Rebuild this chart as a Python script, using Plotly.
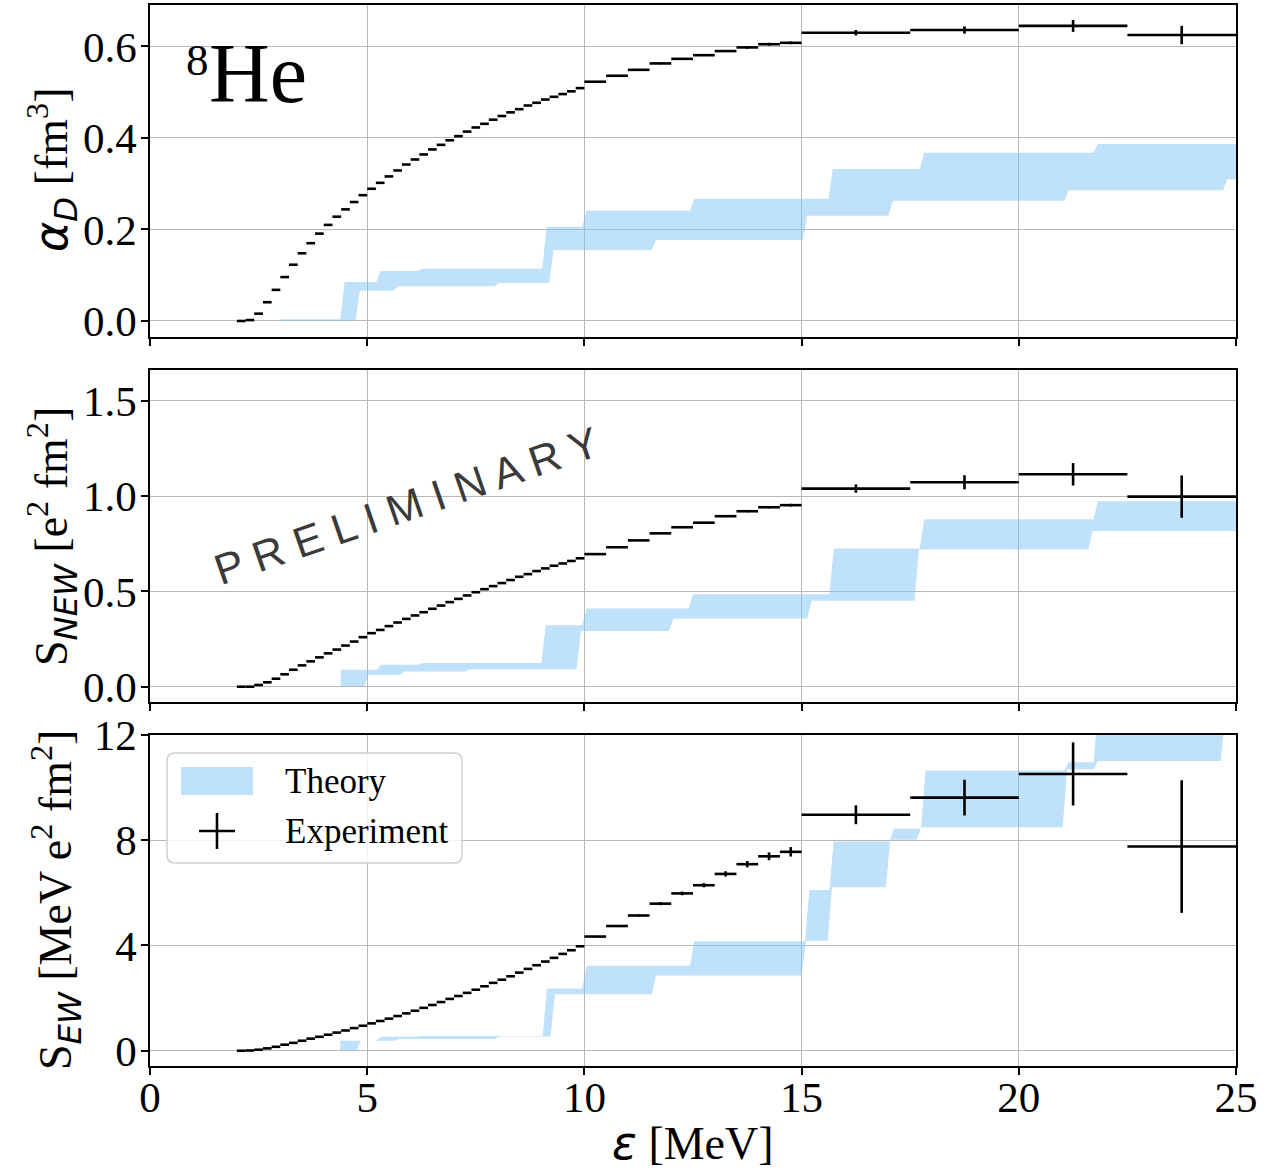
import plotly.graph_objects as go
from plotly.subplots import make_subplots

# ---------------- data ----------------
bin_edges = [2.0, 2.2, 2.4, 2.6, 2.8, 3.0, 3.2, 3.4, 3.6, 3.8,
             4.0, 4.2, 4.4, 4.6, 4.8, 5.0, 5.2, 5.4, 5.6, 5.8,
             6.0, 6.2, 6.4, 6.6, 6.8, 7.0, 7.2, 7.4, 7.6, 7.8,
             8.0, 8.2, 8.4, 8.6, 8.8, 9.0, 9.2, 9.4, 9.6, 9.8,
             10.0, 10.5, 11.0, 11.5, 12.0, 12.5, 13.0, 13.5, 14.0, 14.5,
             15.0, 17.5, 20.0, 22.5, 25.0]

alpha_exp = [0.000, 0.002, 0.016, 0.041, 0.068, 0.096, 0.123, 0.148, 0.170, 0.191,
             0.210, 0.228, 0.244, 0.260, 0.275, 0.289, 0.302, 0.316, 0.329, 0.342,
             0.353, 0.364, 0.375, 0.385, 0.395, 0.404, 0.414, 0.423, 0.431, 0.440,
             0.448, 0.456, 0.463, 0.471, 0.477, 0.484, 0.490, 0.496, 0.502, 0.509,
             0.523, 0.536, 0.549, 0.563, 0.573, 0.581, 0.590, 0.598, 0.605, 0.608,
             0.630, 0.636, 0.645, 0.625]
alpha_err = [0.000, 0.000, 0.000, 0.000, 0.000, 0.000, 0.000, 0.000, 0.000, 0.000,
             0.000, 0.000, 0.000, 0.000, 0.000, 0.000, 0.000, 0.000, 0.000, 0.000,
             0.000, 0.000, 0.000, 0.000, 0.000, 0.000, 0.000, 0.000, 0.000, 0.000,
             0.001, 0.001, 0.001, 0.001, 0.001, 0.001, 0.001, 0.001, 0.001, 0.001,
             0.001, 0.001, 0.002, 0.002, 0.002, 0.002, 0.002, 0.003, 0.003, 0.003,
             0.006, 0.008, 0.013, 0.020]

snew_exp = [0.000, 0.000, 0.009, 0.023, 0.042, 0.065, 0.089, 0.112, 0.133, 0.154,
            0.175, 0.195, 0.216, 0.237, 0.260, 0.281, 0.298, 0.318, 0.337, 0.356,
            0.374, 0.391, 0.409, 0.426, 0.444, 0.461, 0.479, 0.496, 0.512, 0.528,
            0.544, 0.560, 0.577, 0.591, 0.607, 0.621, 0.635, 0.647, 0.660, 0.674,
            0.696, 0.732, 0.768, 0.805, 0.837, 0.861, 0.895, 0.921, 0.942, 0.953,
            1.040, 1.073, 1.115, 0.998]
snew_err = [0.000, 0.000, 0.000, 0.000, 0.000, 0.000, 0.000, 0.000, 0.000, 0.000,
            0.000, 0.000, 0.000, 0.000, 0.000, 0.000, 0.000, 0.000, 0.000, 0.000,
            0.001, 0.001, 0.001, 0.001, 0.001, 0.001, 0.001, 0.001, 0.001, 0.001,
            0.001, 0.001, 0.001, 0.001, 0.001, 0.002, 0.002, 0.002, 0.002, 0.002,
            0.002, 0.002, 0.003, 0.003, 0.004, 0.004, 0.005, 0.005, 0.006, 0.007,
            0.022, 0.037, 0.059, 0.111]

sew_exp = [0.00, 0.01, 0.04, 0.09, 0.15, 0.23, 0.30, 0.38, 0.46, 0.53,
           0.61, 0.69, 0.77, 0.86, 0.95, 1.04, 1.13, 1.22, 1.32, 1.42,
           1.52, 1.63, 1.74, 1.85, 1.97, 2.08, 2.20, 2.32, 2.45, 2.58,
           2.70, 2.83, 2.97, 3.11, 3.25, 3.39, 3.53, 3.68, 3.82, 3.97,
           4.34, 4.74, 5.14, 5.59, 5.98, 6.29, 6.72, 7.09, 7.39, 7.56,
           8.97, 9.62, 10.52, 7.76]
sew_err = [0.00, 0.00, 0.00, 0.00, 0.00, 0.00, 0.00, 0.00, 0.00, 0.00,
           0.00, 0.00, 0.01, 0.01, 0.01, 0.01, 0.01, 0.01, 0.01, 0.01,
           0.01, 0.01, 0.01, 0.01, 0.01, 0.01, 0.01, 0.01, 0.02, 0.02,
           0.02, 0.02, 0.02, 0.02, 0.02, 0.02, 0.02, 0.03, 0.03, 0.03,
           0.03, 0.04, 0.05, 0.06, 0.07, 0.08, 0.10, 0.12, 0.15, 0.18,
           0.36, 0.68, 1.20, 2.52]

# theory band: step start energies and levels (upper / lower envelope)
alpha_up_x = [3.0, 4.43, 5.26, 6.21, 9.08, 10.0, 12.48, 15.67, 17.77, 21.77]
alpha_up_y = [0.004, 0.085, 0.109, 0.114, 0.206, 0.241, 0.267, 0.332, 0.368, 0.387]
alpha_lo_x = [3.0, 4.78, 5.66, 7.98, 9.24, 11.6, 15.08, 17.05, 21.1, 24.75]
alpha_lo_y = [0.000, 0.066, 0.076, 0.083, 0.155, 0.177, 0.230, 0.263, 0.286, 0.310]

snew_up_x = [4.39, 5.27, 6.22, 9.06, 10.0, 12.45, 15.69, 17.77, 21.77]
snew_up_y = [0.089, 0.115, 0.124, 0.323, 0.411, 0.485, 0.726, 0.879, 0.974]
snew_lo_x = [4.39, 4.98, 5.8, 7.3, 9.87, 12.0, 15.18, 17.65, 21.65]
snew_lo_y = [0.000, 0.062, 0.080, 0.090, 0.293, 0.358, 0.451, 0.720, 0.818]

sew_up_x = [4.38, 5.26, 6.2, 9.09, 10.0, 12.48, 15.13, 15.69, 17.07, 17.8, 21.1, 21.77]
sew_up_y = [0.38, 0.53, 0.56, 2.37, 3.23, 4.16, 6.11, 7.95, 8.44, 10.65, 10.96, 12.9]
sew_lo_x = [4.38, 4.8, 5.68, 7.98, 9.27, 11.6, 15.05, 15.65, 16.99, 17.7, 21.06, 21.77, 24.7]
sew_lo_y = [0.00, 0.38, 0.45, 0.54, 2.15, 2.86, 4.18, 6.21, 8.02, 8.49, 10.7, 11.01, 12.8]

x_ticks = [0, 5, 10, 15, 20, 25]
band_color = "rgba(128,196,243,0.5)"

# ---------------- helpers ----------------
def step_edge(xs, ys, x_end, ramp=0.05):
    px, py = [xs[0]], [ys[0]]
    for i in range(1, len(xs)):
        px += [xs[i] - ramp, xs[i] + ramp]
        py += [ys[i - 1], ys[i]]
    px.append(x_end)
    py.append(ys[-1])
    return px, py


def band_trace(ux, uy, lx, ly):
    upx, upy = step_edge(ux, uy, 25.0)
    lox, loy = step_edge(lx, ly, 25.0)
    return go.Scatter(x=lox + upx[::-1], y=loy + upy[::-1], fill="toself",
                      fillcolor=band_color, mode="lines", line=dict(width=0),
                      name="Theory", showlegend=False, hoverinfo="skip")


centers = [(bin_edges[i] + bin_edges[i + 1]) / 2 for i in range(len(bin_edges) - 1)]
halfw = [(bin_edges[i + 1] - bin_edges[i]) / 2 for i in range(len(bin_edges) - 1)]


def exp_trace(vals, errs):
    return go.Scatter(x=centers, y=vals, mode="markers",
                      marker=dict(size=1, color="black", opacity=0),
                      error_x=dict(type="data", array=halfw, width=0, thickness=2.6, color="black"),
                      error_y=dict(type="data", array=errs, width=0, thickness=2.6, color="black"),
                      name="Experiment", showlegend=False)


fig = make_subplots(rows=3, cols=1, shared_xaxes=True)
fig.add_trace(band_trace(alpha_up_x, alpha_up_y, alpha_lo_x, alpha_lo_y), row=1, col=1)
fig.add_trace(exp_trace(alpha_exp, alpha_err), row=1, col=1)
fig.add_trace(band_trace(snew_up_x, snew_up_y, snew_lo_x, snew_lo_y), row=2, col=1)
fig.add_trace(exp_trace(snew_exp, snew_err), row=2, col=1)
fig.add_trace(band_trace(sew_up_x, sew_up_y, sew_lo_x, sew_lo_y), row=3, col=1)
fig.add_trace(exp_trace(sew_exp, sew_err), row=3, col=1)

W, H = 1288, 1170
ML, MR, MT, MB = 150, 52, 5, 104
PW, PH = W - ML - MR, H - MT - MB


def px2paper(x, y):
    return (x - ML) / PW, (H - MB - y) / PH


axis_common = dict(showline=True, mirror=True, linecolor="black", linewidth=1.5,
                   showgrid=True, gridcolor="#b8b8b8", gridwidth=1.3, zeroline=False,
                   ticks="outside", ticklen=7, tickwidth=1.5, tickcolor="black", automargin=False,
                   tickfont=dict(family="Liberation Serif", size=43, color="black"))

for i, ax in enumerate(["xaxis", "xaxis2", "xaxis3"]):
    fig.layout[ax].update(range=[0, 25], tickvals=x_ticks, showticklabels=(i == 2),
                          ticklabelstandoff=-14, **axis_common)

fig.layout.yaxis.update(domain=[(H - MB - 337) / PH, 1.0], range=[-0.035, 0.6907],
                        tickvals=[0, 0.2, 0.4, 0.6], tickformat=".1f", ticklabelstandoff=-4, **axis_common)
fig.layout.yaxis2.update(domain=[(H - MB - 702) / PH, (H - MB - 370) / PH], range=[-0.0803, 1.6625],
                         tickvals=[0, 0.5, 1.0, 1.5], tickformat=".1f", ticklabelstandoff=-4, **axis_common)
fig.layout.yaxis3.update(domain=[0.0, (H - MB - 735) / PH], range=[-0.58, 12.0],
                         tickvals=[0, 4, 8, 12], tickformat="d", ticklabelstandoff=-4, **axis_common)

annotations = []
title_font = dict(family="Liberation Serif", size=46, color="black")
sans_it = "font-family:DejaVu Sans;font-style:italic"

# axis titles
ax_, ay_ = px2paper(52, 170)
annotations.append(dict(text=f"<span style='{sans_it}'>α</span><sub><span style='{sans_it}'>D</span></sub> [fm<sup>3</sup>]",
                        x=ax_, y=ay_, xref="paper", yref="paper",
                        textangle=-90, showarrow=False, font=title_font, xanchor="center", yanchor="middle"))
ax_, ay_ = px2paper(52, 537)
annotations.append(dict(text=f"S<sub><span style='{sans_it}'>NEW</span></sub> [e<sup>2</sup> fm<sup>2</sup>]",
                        x=ax_, y=ay_, xref="paper", yref="paper",
                        textangle=-90, showarrow=False, font=title_font, xanchor="center", yanchor="middle"))
ax_, ay_ = px2paper(56, 900)
annotations.append(dict(text=f"S<sub><span style='{sans_it}'>EW</span></sub> [MeV e<sup>2</sup> fm<sup>2</sup>]",
                        x=ax_, y=ay_, xref="paper", yref="paper",
                        textangle=-90, showarrow=False, font=title_font, xanchor="center", yanchor="middle"))
ax_, ay_ = px2paper(693, 1143)
annotations.append(dict(text=f"<span style='{sans_it}'>ε</span> [MeV]", x=ax_, y=ay_, xref="paper", yref="paper",
                        showarrow=False, font=title_font, xanchor="center", yanchor="middle"))

# nucleus label: mass number (superscript) and element symbol
ax_, ay_ = px2paper(184, 60)
annotations.append(dict(text="8", x=ax_, y=ay_, xref="paper", yref="paper", showarrow=False,
                        font=dict(family="Liberation Serif", size=45, color="black"),
                        xanchor="left", yanchor="middle"))
ax_, ay_ = px2paper(207, 74)
annotations.append(dict(text="He", x=ax_, y=ay_, xref="paper", yref="paper", showarrow=False,
                        font=dict(family="Liberation Serif", size=84, color="black"),
                        xanchor="left", yanchor="middle"))

# watermark
ax_, ay_ = px2paper(406, 506)
annotations.append(dict(text="P R E L I M I N A R Y", x=ax_, y=ay_, xref="paper", yref="paper", showarrow=False,
                        textangle=-19, font=dict(family="Liberation Sans", size=43, color="#3a3a3a"),
                        xanchor="center", yanchor="middle"))

# legend (drawn in the bottom panel)
ax_, ay_ = px2paper(283, 781)
annotations.append(dict(text="Theory", x=ax_, y=ay_, xref="paper", yref="paper", showarrow=False,
                        font=dict(family="Liberation Serif", size=35, color="black"),
                        xanchor="left", yanchor="middle"))
ax_, ay_ = px2paper(283, 831)
annotations.append(dict(text="Experiment", x=ax_, y=ay_, xref="paper", yref="paper", showarrow=False,
                        font=dict(family="Liberation Serif", size=35, color="black"),
                        xanchor="left", yanchor="middle"))

shapes = []
x0, y0 = px2paper(167, 863)
x1, y1 = px2paper(462, 753)
rx, ry = 8 / PW, 8 / PH
path = (f"M{x0+rx},{y0} L{x1-rx},{y0} Q{x1},{y0} {x1},{y0+ry} L{x1},{y1-ry} Q{x1},{y1} {x1-rx},{y1} "
        f"L{x0+rx},{y1} Q{x0},{y1} {x0},{y1-ry} L{x0},{y0+ry} Q{x0},{y0} {x0+rx},{y0} Z")
shapes.append(dict(type="path", path=path, xref="paper", yref="paper",
                   fillcolor="rgba(255,255,255,0.8)", line=dict(color="#d0d0d0", width=1.5), layer="above"))
px0, py0 = px2paper(181, 795)
px1, py1 = px2paper(253, 767)
shapes.append(dict(type="rect", x0=px0, y0=py0, x1=px1, y1=py1, xref="paper", yref="paper",
                   fillcolor=band_color, line=dict(width=0), layer="above"))
hx0, hy = px2paper(199, 831)
hx1, _ = px2paper(235, 831)
shapes.append(dict(type="line", x0=hx0, y0=hy, x1=hx1, y1=hy, xref="paper", yref="paper",
                   line=dict(color="black", width=2.6), layer="above"))
vx, vy0 = px2paper(217, 813)
_, vy1 = px2paper(217, 849)
shapes.append(dict(type="line", x0=vx, y0=vy0, x1=vx, y1=vy1, xref="paper", yref="paper",
                   line=dict(color="black", width=2.6), layer="above"))

fig.update_layout(width=W, height=H, margin=dict(l=ML, r=MR, t=MT, b=MB, autoexpand=False),
                  paper_bgcolor="white", plot_bgcolor="white", showlegend=False,
                  font=dict(family="Liberation Serif", color="black"),
                  annotations=annotations, shapes=shapes)

fig.write_html("out.html", config={"displayModeBar": False},
               post_script="document.body.style.margin='0px';")
